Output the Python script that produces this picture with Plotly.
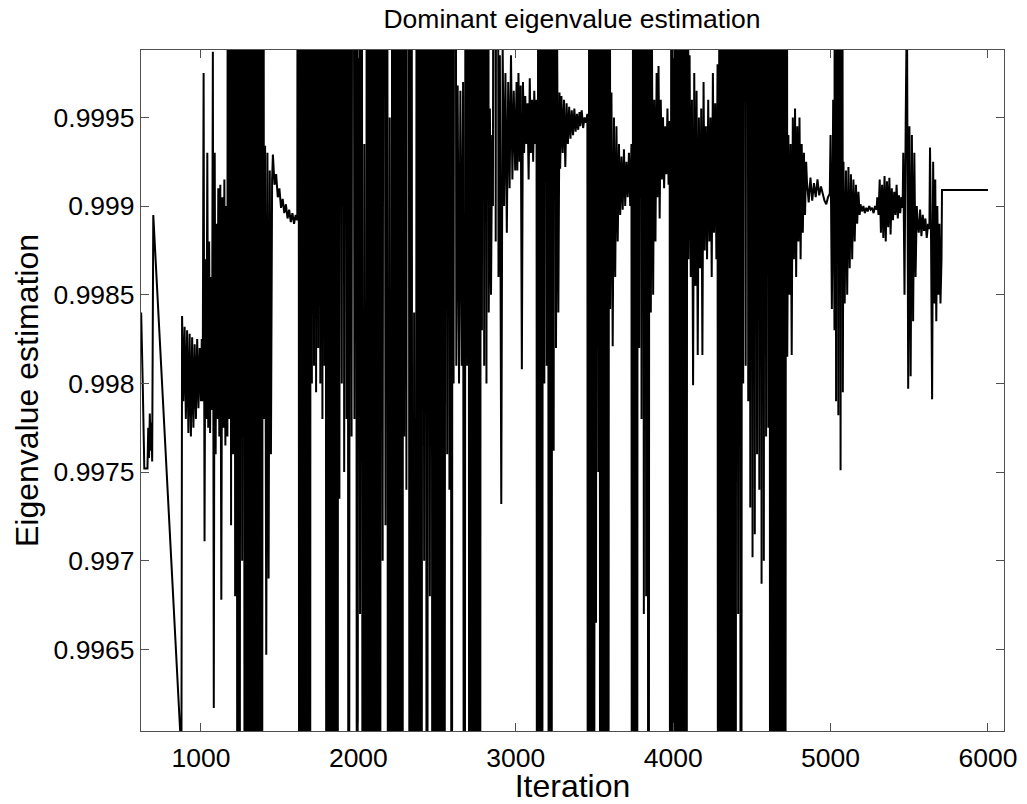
import numpy as np
import plotly.graph_objects as go

# Segment x-extent (iterations) and eigenvalue estimates.
# 1.006 / 0.990 mark swings that leave the visible window (clipped in the figure).
seg_start = [620, 660, 697, 876, 880, 1005, 1110, 1172, 1235, 1400, 1457, 1618, 1698, 1790, 1872, 1930,
             2285, 2318, 2550, 2605, 2705, 2785, 2855, 3010, 3137, 3282, 3410, 3460, 3510, 3537, 3600,
             3740, 3900, 3982, 4097, 4287, 4445, 4490, 4617, 4725, 4850, 5000, 5028, 5082, 5190, 5297,
             5462, 5552, 5632, 5708]
seg_end = [640, 690, 697, 876, 1000, 1105, 1168, 1230, 1395, 1452, 1612, 1692, 1785, 1868, 1925, 2280,
           2312, 2545, 2600, 2700, 2780, 2850, 3005, 3132, 3278, 3405, 3455, 3505, 3532, 3595, 3735,
           3895, 3978, 4092, 4282, 4440, 4485, 4612, 4720, 4845, 4995, 5025, 5078, 5185, 5292, 5458,
           5548, 5628, 5705, 6000]
seg_values = [
    [0.99840, 0.99800, 0.99752],
    [0.99752, 0.99775, 0.99758, 0.99783, 0.99762, 0.99778, 0.99756],
    [0.99895],
    [0.99590],
    [0.99838, 0.99790, 0.99832, 0.99780, 0.99830, 0.99772, 0.99828, 0.99770, 0.99826, 0.99775, 0.99822,
     0.99780, 0.99825, 0.99786, 0.99820, 0.99790],
    [0.99825, 0.99790, 0.99975, 0.99711, 0.99870, 0.99780, 0.99930, 0.99775, 0.99880, 0.99772, 0.99860,
     0.99785, 0.99987, 0.99617, 0.99930, 0.99760, 0.99890, 0.99780],
    [0.99910, 0.99770, 0.99912, 0.99678, 0.99905, 0.99775, 0.99915, 0.99765, 0.99900, 0.99770],
    [1.006, 0.9978, 1.006, 0.9972, 1.006, 0.9976, 1.006, 0.9968, 1.006, 0.9960],
    [1.006, 0.990, 1.006, 0.9970, 1.006, 0.990, 1.006, 0.990, 1.006, 0.990, 1.006, 0.990,
     1.006, 0.990, 1.006, 0.990, 1.006, 0.990, 1.006],
    [0.99780, 0.99934, 0.99647, 0.99930, 0.99690, 0.99920, 0.99760, 0.99915],
    [0.99929, 0.99912, 0.99918, 0.99905, 0.99910, 0.99899, 0.99904, 0.99896, 0.99901, 0.99893, 0.99898,
     0.99891, 0.99896, 0.99890, 0.99895, 0.99892],
    [1.006, 0.990, 1.006, 0.990, 1.006, 0.990, 1.006, 0.990, 1.006, 0.990],
    [1.006, 0.9980, 1.006, 0.9981, 1.006, 0.99795, 1.006, 0.9982, 1.006, 0.9980, 1.006, 0.9978,
     1.006, 0.9981],
    [1.006, 0.990, 1.006, 0.990, 1.006, 0.990, 1.006, 0.990, 1.006, 0.990],
    [1.006, 0.99735, 1.006, 0.9980, 1.006, 0.99750, 1.006, 0.9978],
    [1.006, 0.990, 1.006, 0.9977, 1.006, 0.9978, 1.006, 0.990, 1.006, 0.9967, 1.006, 0.990,
     0.99935, 0.990, 1.006, 0.990, 1.006, 0.990, 1.006, 0.990, 1.006, 0.990, 1.006, 0.990,
     1.006, 0.9970, 1.006, 0.9972, 1.006, 0.990, 0.99950, 0.990, 1.006, 0.990, 1.006, 0.990,
     1.006, 0.990, 1.006, 0.990],
    [1.006, 0.9977, 1.006, 0.9974, 1.006],
    [1.006, 0.990, 1.006, 0.990, 0.9984, 0.990, 1.006, 0.990, 1.006, 0.990, 1.006, 0.9970,
     1.006, 0.990, 1.006, 0.9968, 1.006, 0.990, 1.006, 0.990, 1.006, 0.990, 1.006, 0.990,
     1.006, 0.990],
    [0.9975, 1.006, 0.9976, 1.006, 0.9974, 1.006, 0.990, 1.006],
    [0.9980, 1.006, 0.9981, 0.99968, 0.9980, 0.99965, 0.9981, 0.99970, 0.990, 1.006, 0.9981, 1.006],
    [0.990, 1.006, 0.990, 1.006, 0.990, 1.006, 0.990, 1.006, 0.990, 1.006],
    [0.9983, 1.006, 0.9981, 1.006, 0.9980, 1.006, 0.9984, 0.99955, 0.9985, 0.99940],
    [0.9990, 1.006, 0.9988, 1.006, 0.9986, 0.99985, 0.99732, 0.99990, 0.9990, 0.99975, 0.99885, 0.99970,
     0.9991, 0.99985, 0.99915, 0.99965, 0.99920, 0.99970],
    [0.99920, 0.99975, 0.99925, 0.99968, 0.99808, 0.99970, 0.99930, 0.99962, 0.99935, 0.99958, 0.99915,
     0.99972, 0.99930, 0.99960, 0.99925, 0.99965, 0.99935, 0.99960],
    [0.990, 1.006, 0.990, 1.006, 0.990, 1.006, 0.9980, 1.006, 0.9981, 1.006, 0.990, 1.006,
     0.990, 1.006, 0.99762, 1.006, 0.9982, 0.99990, 0.9984, 0.99964],
    [0.99921, 0.99962, 0.99930, 0.99960, 0.99922, 0.99958, 0.99935, 0.99956, 0.99938, 0.99954, 0.99940,
     0.99955, 0.99942, 0.99952, 0.99943, 0.99953],
    [0.99945, 0.99954, 0.99944, 0.99950, 0.99947, 0.99952],
    [0.990, 1.006, 0.990, 1.006, 0.990, 1.006],
    [0.99665, 1.006, 0.9975, 1.006],
    [0.990, 1.006, 0.990, 1.006, 0.990, 1.006, 0.990, 1.006],
    [0.99842, 0.99964, 0.99821, 0.99950, 0.99860, 0.99945, 0.99880, 0.99935, 0.99895, 0.99928, 0.99898,
     0.99932, 0.99900, 0.99925, 0.99905, 0.99930, 0.99900, 0.99935],
    [0.990, 1.006, 0.990, 1.006, 0.990, 1.006, 0.9982, 1.006, 0.9978, 1.006, 0.9967, 1.006,
     0.9968, 1.006, 0.990, 1.006, 0.9984, 0.99990, 0.9985, 0.99960, 0.9988, 0.99975],
    [0.99905, 0.99979, 0.99893, 0.99960, 0.99915, 0.99950, 0.99910, 0.99945, 0.99918, 0.99955, 0.99912,
     0.99948],
    [0.990, 1.006, 0.990, 1.006, 0.990, 1.006, 0.990, 1.006, 0.990, 1.006, 0.990, 1.006,
     0.990, 1.006],
    [0.99870, 0.99985, 0.99860, 0.99960, 0.99799, 0.99975, 0.99855, 0.99965, 0.99816, 0.99950, 0.99865,
     0.99955, 0.99816, 0.99970, 0.99875, 0.99945, 0.99870, 0.99960, 0.99880, 0.99950, 0.99860, 0.99975,
     0.99885, 0.99958, 0.99870, 0.99980],
    [0.990, 1.006, 0.990, 1.006, 0.990, 1.006, 0.990, 1.006, 0.990, 1.006, 0.990, 1.006,
     0.990, 1.006, 0.9967, 1.006, 0.990, 1.006],
    [0.9980, 1.006, 0.9981, 1.006, 0.9979, 1.006],
    [0.99730, 1.006, 0.99702, 1.006, 0.99715, 1.006, 0.99760, 1.006, 0.99740, 1.006, 0.99687, 1.006,
     0.99700, 1.006, 0.99770, 1.006, 0.99775, 1.006],
    [0.990, 1.006, 0.990, 1.006, 0.990, 1.006, 0.990, 1.006, 0.990, 1.006, 0.990, 1.006],
    [0.99815, 0.99940, 0.99850, 0.99935, 0.99816, 0.99950, 0.99870, 0.99955, 0.99860, 0.99945, 0.99880,
     0.99950, 0.99870, 0.99935, 0.99885, 0.99930, 0.99895, 0.99925],
    [0.99914, 0.99902, 0.99916, 0.99903, 0.99913, 0.99905, 0.99915, 0.99906, 0.99911, 0.99907, 0.99903,
     0.99901, 0.99905, 0.99907],
    [0.99940, 0.99842, 0.99960, 0.99830],
    [1.006, 0.99790, 1.006, 0.99782, 1.006, 0.99751, 1.006, 0.99795],
    [0.99925, 0.99845, 0.99920, 0.99850, 0.99922, 0.99865, 0.99918, 0.99870, 0.99915, 0.99880, 0.99912,
     0.99890, 0.99908, 0.99895],
    [0.99901, 0.99897, 0.99900, 0.99896, 0.99899, 0.99897, 0.99900, 0.99898, 0.99899, 0.99896, 0.99900,
     0.99898],
    [0.99905, 0.99895, 0.99915, 0.99885, 0.99912, 0.99882, 0.99917, 0.99880, 0.99914, 0.99888, 0.99916,
     0.99884, 0.99910, 0.99892, 0.99908, 0.99895, 0.99912, 0.99893, 0.99906, 0.99896, 0.99905, 0.99899],
    [0.99930, 0.99850, 0.99950, 1.0002, 0.99797, 0.99945, 0.99804, 0.99940, 0.99835, 0.99930, 0.99860,
     0.99900],
    [0.99892, 0.99885, 0.99898, 0.99883, 0.99895, 0.99886, 0.99893, 0.99882, 0.99890, 0.99887],
    [0.99933, 0.99880, 0.99791, 0.99925, 0.99845, 0.99915, 0.99835, 0.99900, 0.99850, 0.99890, 0.99845,
     0.99870],
    [0.99909, 0.99909],
]

x_tick_vals = [1000, 2000, 3000, 4000, 5000, 6000]
y_tick_vals = [0.9965, 0.997, 0.9975, 0.998, 0.9985, 0.999, 0.9995]
y_tick_text = ["0.9965", "0.997", "0.9975", "0.998", "0.9985", "0.999", "0.9995"]

xs, ys = [], []
for a, b, vals in zip(seg_start, seg_end, seg_values):
    xs.extend(np.linspace(a, b, len(vals)).tolist())
    ys.extend(vals)

FONT = "Liberation Sans, Arial, Helvetica, sans-serif"
AXC = "#505050"

fig = go.Figure()
fig.add_trace(go.Scatter(x=xs, y=ys, mode="lines",
                         line=dict(color="black", width=2, simplify=False),
                         showlegend=False, hoverinfo="skip"))

fig.update_layout(
    width=1027, height=804,
    margin=dict(l=141, r=23, t=50, b=73, autoexpand=False),
    paper_bgcolor="white", plot_bgcolor="white",
    font=dict(family=FONT, size=26.5, color="black"),
    title=dict(text="Dominant eigenvalue estimation", x=572 / 1027, xanchor="center",
               y=1 - 19 / 804, yanchor="middle", font=dict(size=26.5)),
)
fig.update_xaxes(range=[619, 6102], tickvals=x_tick_vals, ticks="inside", ticklen=8, tickwidth=1,
                 tickcolor=AXC, showline=True, linecolor=AXC, linewidth=1.2, mirror="ticks",
                 showgrid=False, zeroline=False, ticklabelstandoff=3, automargin=False,
                 title=dict(text="Iteration", standoff=5))
fig.update_yaxes(range=[0.99604, 0.99988], tickvals=y_tick_vals, ticktext=y_tick_text,
                 ticks="inside", ticklen=8, tickwidth=1, tickcolor=AXC, showline=True,
                 linecolor=AXC, linewidth=1.2, mirror="ticks", showgrid=False, zeroline=False,
                 automargin=False,
                 title=dict(text="Eigenvalue estimation", standoff=5))

fig.write_html("out.html")
